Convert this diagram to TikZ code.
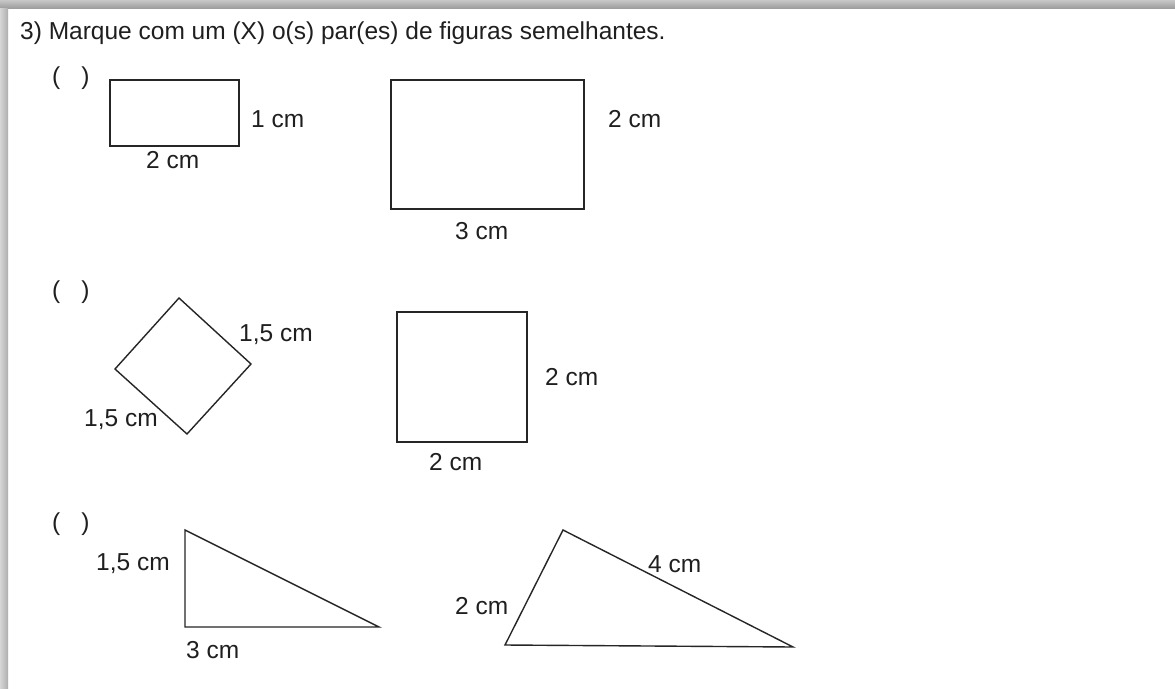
\documentclass[tikz,border=0pt]{standalone}
\usepackage{fontspec}
\setmainfont{Liberation Sans}
\begin{document}
\begin{tikzpicture}[x=1pt,y=-1pt,
  lbl/.style={anchor=base west,inner sep=0pt,font=\fontsize{24.5}{29}\selectfont,text=black!88},
  shp/.style={draw=black!85,line width=1.4pt,line join=miter}]
\useasboundingbox (0,0) rectangle (1175,688);
\fill[white] (0,0) rectangle (1175,688);
\shade[top color=black!22,bottom color=black!38] (0,0) rectangle (1175,8);
\shade[left color=black!16,right color=black!32] (0,8) rectangle (8,688);
% title
\node[lbl] (title) at (20,39) {3) Marque com um (X) o(s) par(es) de figuras semelhantes.};
% checkboxes
\node[lbl] (p1) at (52,84) {(\hspace{21pt})};
\node[lbl] (p2) at (52,298) {(\hspace{21pt})};
\node[lbl] (p3) at (52,530) {(\hspace{21pt})};
% row 1
\coordinate (r1a) at (110,80); \coordinate (r1b) at (239,146);
\draw[shp] (r1a) rectangle (r1b);
\node[lbl] (r1h) at (251,127) {1 cm};
\node[lbl] (r1w) at (146,168) {2 cm};
\coordinate (r2a) at (391,80); \coordinate (r2b) at (584,209);
\draw[shp] (r2a) rectangle (r2b);
\node[lbl] (r2h) at (608,127) {2 cm};
\node[lbl] (r2w) at (455,239) {3 cm};
% row 2
\coordinate (dT) at (179,298); \coordinate (dR) at (251,364);
\coordinate (dB) at (187,434); \coordinate (dL) at (115,369);
\draw[shp] (dT) -- (dR) -- (dB) -- (dL) -- cycle;
\node[lbl] (d1) at (239,341) {1,5 cm};
\node[lbl] (d2) at (84,426) {1,5 cm};
\coordinate (s1) at (397,312); \coordinate (s2) at (527,442);
\draw[shp] (s1) rectangle (s2);
\node[lbl] (sh) at (545,385) {2 cm};
\node[lbl] (sw) at (429,470) {2 cm};
% row 3
\coordinate (t1T) at (185,530); \coordinate (t1L) at (185,627); \coordinate (t1R) at (379,627);
\draw[shp] (t1T) -- (t1L) -- (t1R) -- cycle;
\node[lbl] (t1h) at (96,570) {1,5 cm};
\node[lbl] (t1w) at (186,658) {3 cm};
\coordinate (t2T) at (563,530); \coordinate (t2L) at (505,645); \coordinate (t2R) at (793,647);
\draw[shp] (t2T) -- (t2L) -- (t2R) -- cycle;
\node[lbl] (t2a) at (648,572) {4 cm};
\node[lbl] (t2b) at (455,614) {2 cm};
\end{tikzpicture}
\end{document}
